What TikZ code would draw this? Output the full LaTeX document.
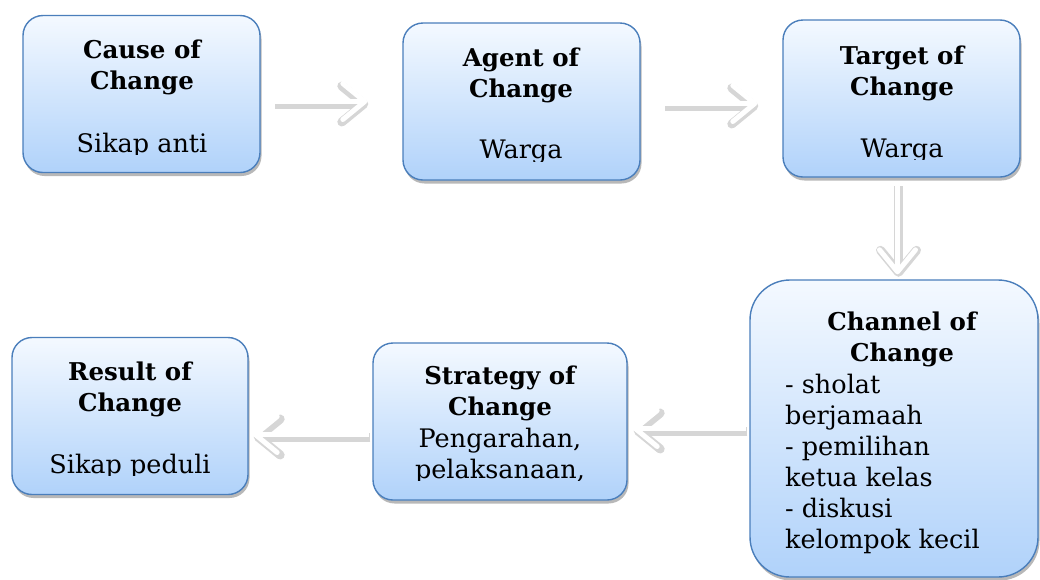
\documentclass[tikz,border=0pt]{standalone}
\usepackage{fontspec}
\setmainfont{DejaVu Serif}
\usetikzlibrary{arrows.meta,shadows,calc}
\definecolor{box_top}{RGB}{244, 249, 255}
\definecolor{box_bot}{RGB}{176, 210, 250}
\definecolor{box_line}{RGB}{74, 126, 187}
\tikzstyle{box}=[rectangle,rounded corners=20pt,draw=box_line,line width=1.4pt,
  top color=box_top,bottom color=box_bot,inner sep=0pt,
  drop shadow={shadow xshift=1.5pt,shadow yshift=-3.5pt,fill=black,opacity=0.28},
  minimum width=237pt,minimum height=157pt]
\tikzstyle{bigbox}=[box,rounded corners=40pt,minimum width=288pt,minimum height=297pt]
\tikzstyle{head}=[font=\fontsize{24.5}{31}\selectfont\bfseries,align=center,anchor=base,inner sep=0pt]
\tikzstyle{txt}=[font=\fontsize{25.5}{31}\selectfont,align=center,anchor=base,inner sep=0pt]
\tikzstyle{flow}=[draw=white,line width=5pt,-{Straight Barb[length=22pt,width=36pt,round]},
  preaction={draw=black!16,line width=9pt,-{Straight Barb[length=22pt,width=36pt,round]},
  transform canvas={shift={(1pt,-2.5pt)}}}]

\begin{document}
\begin{tikzpicture}[x=1pt,y=-1pt]
        \useasboundingbox (0,0) rectangle (1040,579);
        \node [style=box] (0) at (141.5, 94) {};
		\node [style=box] (1) at (521.5, 101.5) {};
		\node [style=box] (2) at (901.5, 98.5) {};
		\node [style=bigbox] (3) at (894, 428.5) {};
		\node [style=box, minimum width=254pt] (4) at (500, 421.5) {};
		\node [style=box, minimum width=236pt] (5) at (130, 416) {};
		\node [style=head] (6) at (142, 89) {Cause of\\Change};
		\node [style=head] (7) at (521, 97) {Agent of\\Change};
		\node [style=head] (8) at (902, 95) {Target of\\Change};
		\node [style=head] (9) at (902, 361) {Channel of\\Change};
		\node [style=head] (10) at (500, 415) {Strategy of\\Change};
		\node [style=head] (11) at (130, 411) {Result of\\Change};
		\begin{scope}
		\clip (0,0) rectangle (1040,154);
		\node [style=txt] (12) at (142, 152) {Sikap anti};
		\end{scope}
		\begin{scope}
		\clip (0,0) rectangle (1040,161);
		\node [style=txt] (13) at (521, 158) {Warga};
		\end{scope}
		\begin{scope}
		\clip (0,0) rectangle (1040,159);
		\node [style=txt] (14) at (902, 157) {Warga};
		\end{scope}
		\node [style=txt, align=left, anchor=base west] (15) at (785, 548) {- sholat\\berjamaah\\- pemilihan\\ketua kelas\\- diskusi\\kelompok kecil};
		\begin{scope}
		\clip (0,0) rectangle (1040,480);
		\node [style=txt] (16) at (500, 478) {Pengarahan,\\pelaksanaan,};
		\end{scope}
		\begin{scope}
		\clip (0,0) rectangle (1040,475);
		\node [style=txt] (17) at (130, 473) {Sikap peduli};
		\end{scope}
		\draw [style=flow, shorten <=13pt, shorten >=35pt] (0.east |- 1.west) to (1.west);
		\draw [style=flow, shorten <=23pt, shorten >=25pt] ([yshift=-2pt]1.east) to ([yshift=-2pt]1.east -| 2.west);
		\draw [style=flow, shorten <=6pt, shorten >=5pt] ([xshift=-4pt]2.south) to ([xshift=-4pt]2.south |- 3.north);
		\draw [style=flow, shorten <=3pt, shorten >=5pt] ([yshift=-7pt]3.west |- 4.east) to ([yshift=-7pt]4.east);
		\draw [style=flow, shorten <=3pt, shorten >=4pt] ([yshift=-13pt]4.west) to ([yshift=-13pt]4.west -| 5.east);
    \end{tikzpicture}
\end{document}
